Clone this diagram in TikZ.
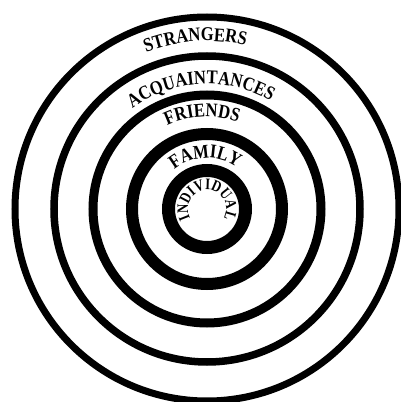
\documentclass[tikz,border=0pt]{standalone}
\usepackage{fontspec}
\setmainfont{Liberation Serif}
\newfontfamily\bandfam[FakeStretch=0.85]{Liberation Serif}
\newfontfamily\corefam[FakeStretch=0.8]{Liberation Serif}
\usetikzlibrary{decorations.text}

\newcommand\ringfont{\bandfam\fontsize{19.5}{19.5}\selectfont\bfseries}
\newcommand\corefont{\corefam\fontsize{16}{16}\selectfont\bfseries}

\begin{document}
\begin{tikzpicture}[
        ring/.style={draw, line width=#1},
        lbl/.style={decorate, decoration={text along path, text align=center}}
    ]
    \useasboundingbox (-207pt,-193pt) rectangle (194pt,209pt);
    \coordinate (c) at (0,0);

    % the five rings, outside in
    \draw[ring=7pt]  (c) circle[radius=192pt];
    \draw[ring=7.5pt] (c) circle[radius=153pt];
    \draw[ring=9pt]  (c) circle[radius=114pt];
    \draw[ring=12pt] (c) circle[radius=75pt];
    \draw[ring=13pt] (c) circle[radius=38.5pt];

    % labels along the top of each band
    \path[lbl, decoration={text={|\ringfont|STRANGERS}}]
        (c) ++(184:168pt) arc[start angle=184, end angle=4, radius=168pt];
    \path[lbl, decoration={text={|\ringfont|ACQUAINTANCES}}]
        (c) ++(183:125pt) arc[start angle=183, end angle=3, radius=125pt];
    \path[lbl, decoration={text={|\ringfont|FRIENDS}}]
        (c) ++(183:92pt) arc[start angle=183, end angle=3, radius=92pt];
    \path[lbl, decoration={text={|\ringfont|FAMILY}}]
        (c) ++(182:51pt) arc[start angle=182, end angle=2, radius=51pt];
    \path[lbl, decoration={text={|\corefont|INDIVIDUAL}}]
        (c) ++(240:19pt) arc[start angle=240, end angle=-60, radius=19pt];
\end{tikzpicture}
\end{document}
